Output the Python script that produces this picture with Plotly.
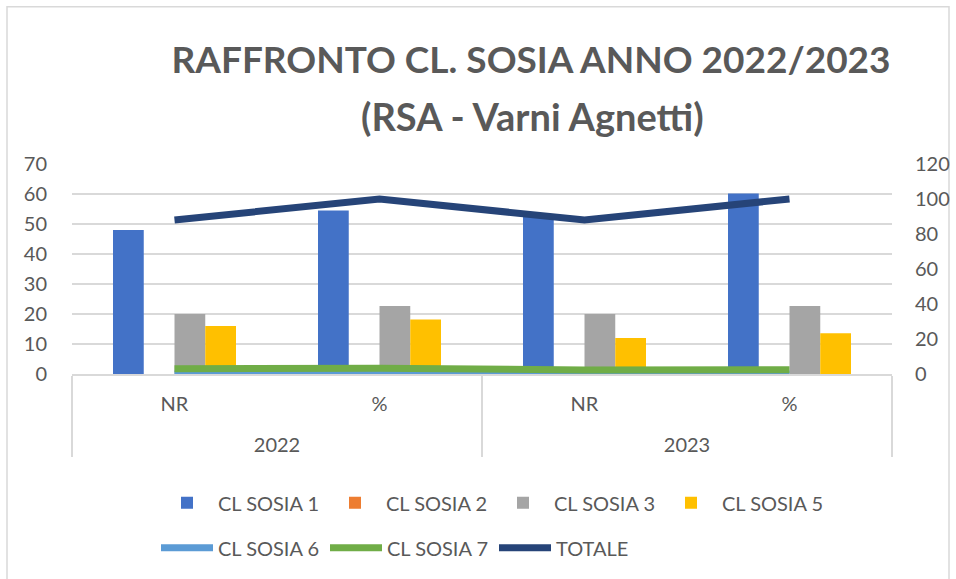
import plotly.graph_objects as go

years = ["2022", "2022", "2023", "2023"]
kinds = ["NR", "%", "NR", "%"]

cl_sosia_1 = [48, 54.5, 53, 60.2]
cl_sosia_2 = [0, 0, 0, 0]
cl_sosia_3 = [20, 22.7, 20, 22.7]
cl_sosia_5 = [16, 18.2, 12, 13.6]
cl_sosia_6 = [0, 0, 0, 0]
cl_sosia_7 = [3, 3.3, 2.3, 2.5]
totale = [88, 100, 88, 100]

FONT = "Lato"
GRAY = "#595959"
GRID = "#D9D9D9"

# outer (year) labels get an empty first line to open the gap below the NR/% row
outer = ["\u00a0<br>" + y for y in years]
x = [outer, kinds]

fig = go.Figure()
bar_specs = [("CL SOSIA 1", cl_sosia_1, "#4372C7"),
             ("CL SOSIA 2", cl_sosia_2, "#ED7D31"),
             ("CL SOSIA 3", cl_sosia_3, "#A5A5A5"),
             ("CL SOSIA 5", cl_sosia_5, "#FFC000")]
for name, vals, col in bar_specs:
    fig.add_trace(go.Bar(x=x, y=vals, name=name, marker_color=col,
                         marker_line_width=0, legend="legend"))

line_specs = [("CL SOSIA 6", cl_sosia_6, "#5B9BD5"),
              ("CL SOSIA 7", cl_sosia_7, "#70AD47"),
              ("TOTALE", totale, "#264478")]
for name, vals, col in line_specs:
    fig.add_trace(go.Scatter(x=x, y=vals, name=name, mode="lines", yaxis="y2",
                             line=dict(color=col, width=7), legend="legend2"))

PL, PR, PT, PB = 72, 892, 164.3, 374.3
H = PB - PT
W = PR - PL

def px_x(p):
    return (p - PL) / W

def px_y(p):
    return (PB - p) / H

fig.update_layout(
    width=956, height=579,
    margin=dict(l=PL, r=956 - PR, t=PT, b=579 - PB, autoexpand=False),
    paper_bgcolor="white", plot_bgcolor="white",
    font=dict(family=FONT, color=GRAY, size=20),
    barmode="group", bargap=0.4, bargroupgap=0,
    title=dict(text="<b>RAFFRONTO CL. SOSIA ANNO 2022/2023</b>",
               font=dict(family=FONT, size=37, color=GRAY),
               x=531 / 956, xanchor="center", xref="container",
               y=1 - 60 / 579, yanchor="middle", yref="container"),
    xaxis=dict(type="multicategory", showline=True, linecolor=GRID, linewidth=1.5,
               showdividers=True, dividercolor=GRID, dividerwidth=1.5,
               showgrid=False, tickfont=dict(size=20, color=GRAY),
               ticklabelstandoff=11, automargin=False),
    yaxis=dict(range=[0, 70], dtick=10, showgrid=True, gridcolor=GRID, gridwidth=1.5,
               zeroline=False, showline=False, tickfont=dict(size=20, color=GRAY),
               ticklabelstandoff=24, automargin=False),
    yaxis2=dict(range=[0, 120], dtick=20, overlaying="y", side="right", showgrid=False,
                zeroline=False, showline=False, tickfont=dict(size=20, color=GRAY),
                ticklabelstandoff=22, automargin=False),
    legend=dict(orientation="h", x=px_x(156), xanchor="left", y=px_y(503), yanchor="middle",
                itemwidth=52, entrywidth=101, font=dict(size=20, color=GRAY),
                bgcolor="rgba(0,0,0,0)"),
    legend2=dict(orientation="h", x=px_x(156), xanchor="left", y=px_y(548), yanchor="middle",
                 itemwidth=52, entrywidth=102, font=dict(size=20, color=GRAY),
                 bgcolor="rgba(0,0,0,0)"),
    annotations=[dict(text="<b>(RSA - Varni Agnetti)</b>", xref="paper", yref="paper",
                      x=px_x(532), y=px_y(116), xanchor="center", yanchor="middle",
                      showarrow=False, font=dict(family=FONT, size=38, color=GRAY))],
    shapes=[dict(type="rect", xref="paper", yref="paper",
                 x0=px_x(7), x1=px_x(949), y0=px_y(7), y1=px_y(600),
                 line=dict(color=GRID, width=1.5), fillcolor="rgba(0,0,0,0)", layer="below")],
    showlegend=True,
)

fig.write_html("out.html", config={"displayModeBar": False},
               post_script="document.body.style.margin='0';")
